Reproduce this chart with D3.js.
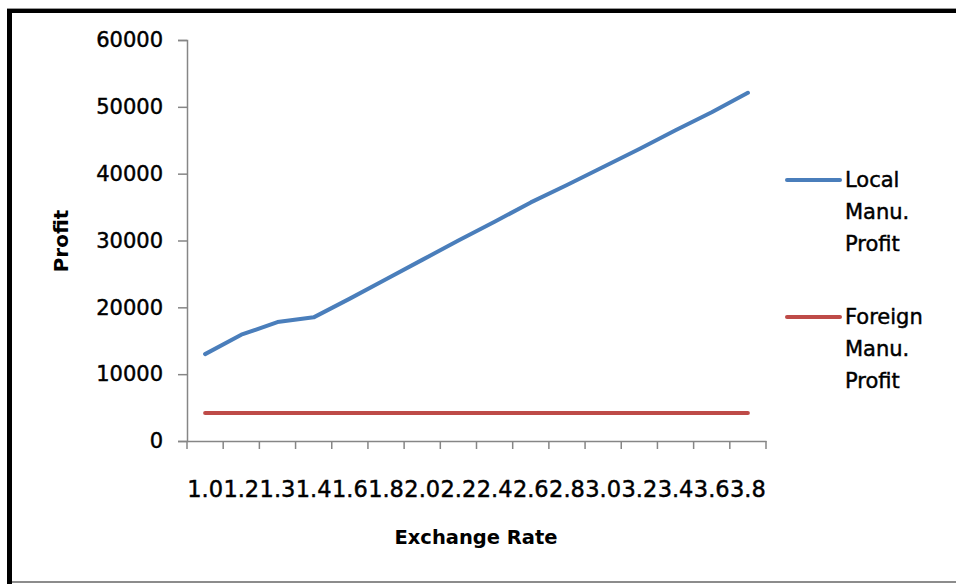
<!DOCTYPE html>
<html>
<head>
<meta charset="utf-8">
<script src="https://cdn.jsdelivr.net/npm/d3@7"></script>
<style>
  html, body { margin: 0; padding: 0; background: #fff; }
  svg { display: block; }
  text { font-family: "DejaVu Sans", sans-serif; fill: #000; }
  .heavy { stroke: #000; stroke-width: 0.45px; }
</style>
</head>
<body>
<svg id="chart" width="956" height="584"></svg>
<script>
// Exchange rate categories along the x axis
const rates = ["1.0", "1.2", "1.3", "1.4", "1.6", "1.8", "2.0", "2.2", "2.4", "2.6", "2.8", "3.0", "3.2", "3.4", "3.6", "3.8"];
// Profit for each manufacturing option
const localProfit = [13000, 15900, 17800, 18500, 21300, 24200, 27100, 30000, 32800, 35700, 38300, 41000, 43700, 46500, 49200, 52100];
const foreignProfit = [4200, 4200, 4200, 4200, 4200, 4200, 4200, 4200, 4200, 4200, 4200, 4200, 4200, 4200, 4200, 4200];
const yTicks = [0, 10000, 20000, 30000, 40000, 50000, 60000];
const seriesNames = [["Local", "Manu.", "Profit"], ["Foreign", "Manu.", "Profit"]];
const seriesColors = ["#4A7EBB", "#BE4B48"];

const svg = d3.select("#chart");
const W = 956, H = 584;

// outer frame
svg.append("rect").attr("width", W).attr("height", H).attr("fill", "#fff");
svg.append("rect").attr("x", 7).attr("y", 8).attr("width", W - 7).attr("height", 1).attr("fill", "#999");
svg.append("rect").attr("x", 7).attr("y", 9).attr("width", W - 7).attr("height", 4).attr("fill", "#000");
svg.append("rect").attr("x", 7).attr("y", 9).attr("width", 5).attr("height", H - 9).attr("fill", "#000");
svg.append("rect").attr("x", 12).attr("y", 581).attr("width", W - 12).attr("height", 2).attr("fill", "#8c8c8c");

const x = d3.scaleBand().domain(rates).range([187, 766]).padding(0);
const y = d3.scaleLinear().domain([0, 60000]).range([441, 40]);
const axisColor = "#868686";

// y axis
const yAxis = svg.append("g").attr("transform", "translate(187,0)")
  .call(d3.axisLeft(y).tickValues(yTicks).tickSize(9).tickPadding(15).tickFormat(d3.format("d")));
yAxis.select(".domain").attr("stroke", axisColor).attr("stroke-width", 1.5);
yAxis.selectAll(".tick line").attr("stroke", axisColor).attr("stroke-width", 1.5);
yAxis.selectAll(".tick text").attr("class", "heavy").style("font-size", "21px").style("font-family", "DejaVu Sans").attr("fill", "#000");

// x axis with ticks between categories
const xAxis = svg.append("g").attr("transform", "translate(0,441)")
  .call(d3.axisBottom(x).tickSize(0).tickPadding(40));
xAxis.select(".domain").attr("stroke", axisColor).attr("stroke-width", 1.5);
xAxis.selectAll(".tick text").attr("class", "heavy").style("font-size", "22.5px").style("font-family", "DejaVu Sans").attr("fill", "#000");
const bounds = rates.map(r => x(r)).concat([x(rates[rates.length - 1]) + x.bandwidth()]);
svg.append("g").selectAll("line").data(bounds).join("line")
  .attr("x1", d => d).attr("x2", d => d).attr("y1", 441).attr("y2", 449)
  .attr("stroke", axisColor).attr("stroke-width", 1.5);

// axis titles
svg.append("text").attr("transform", "translate(68,241) rotate(-90)")
  .attr("text-anchor", "middle").style("font-size", "20px").style("font-weight", "bold").text("Profit");
svg.append("text").attr("x", 476).attr("y", 544)
  .attr("text-anchor", "middle").style("font-size", "19.5px").style("font-weight", "bold").text("Exchange Rate");

// series lines
const line = d3.line().x((d, i) => x(rates[i]) + x.bandwidth() / 2).y(d => y(d));
[localProfit, foreignProfit].forEach((vals, k) => {
  svg.append("path").datum(vals).attr("d", line)
    .attr("fill", "none").attr("stroke", seriesColors[k]).attr("stroke-width", 4)
    .attr("stroke-linecap", "round").attr("stroke-linejoin", "round");
});

// legend
const legendTop = [180, 317];
seriesNames.forEach((lines, k) => {
  const g = svg.append("g").attr("transform", `translate(0,${legendTop[k]})`);
  g.append("line").attr("x1", 787).attr("x2", 840).attr("y1", 0).attr("y2", 0)
    .attr("stroke", seriesColors[k]).attr("stroke-width", 4).attr("stroke-linecap", "round");
  lines.forEach((t, j) => {
    g.append("text").attr("class", "heavy").attr("x", 845).attr("y", 7 + j * 32).style("font-size", "21px").text(t);
  });
});
</script>
</body>
</html>
